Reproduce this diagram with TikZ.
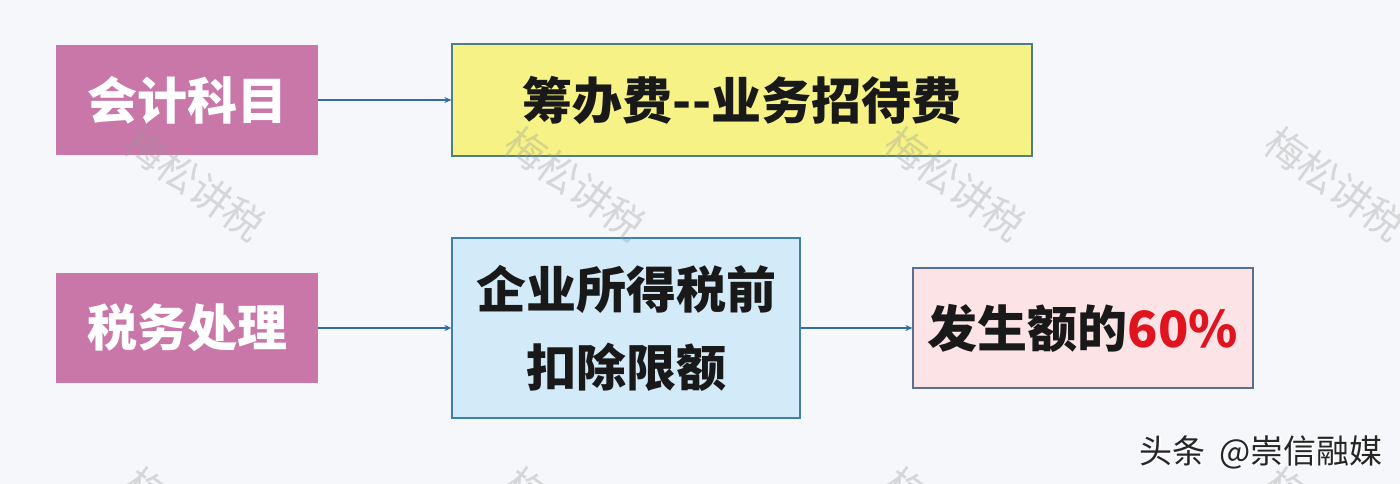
\documentclass[tikz,border=0pt]{standalone}
\usepackage{fontspec}
\newfontfamily\cjk{Noto Sans CJK SC}
\usetikzlibrary{arrows.meta}
\definecolor{bgc}{HTML}{F5F7FA}
\definecolor{pinkbox}{HTML}{C976A9}
\definecolor{yelfill}{HTML}{F6F285}
\definecolor{yelline}{HTML}{4F7F86}
\definecolor{bluefill}{HTML}{D3EAF8}
\definecolor{blueline}{HTML}{3D80AE}
\definecolor{rosefill}{HTML}{FCE3E6}
\definecolor{roseline}{HTML}{5A6F92}
\definecolor{arrowc}{HTML}{2F6DA6}
\definecolor{pctred}{HTML}{E0141E}
\definecolor{wmark}{HTML}{9A9A9A}
\tikzset{
  pinkbox/.style={fill=pinkbox, draw=none, text=white, font=\cjk\bfseries\fontsize{50}{54}\selectfont,
    minimum width=262pt, minimum height=110pt, inner sep=0pt},
  yelbox/.style={fill=yelfill, draw=yelline, line width=1.2pt, text=black!90, font=\cjk\bfseries\fontsize{50}{54}\selectfont,
    minimum width=580pt, minimum height=112pt, inner sep=0pt},
  bluebox/.style={fill=bluefill, draw=blueline, line width=1.2pt, text=black!90, font=\cjk\bfseries\fontsize{50}{78}\selectfont,
    minimum width=348pt, minimum height=180pt, inner sep=0pt, align=center},
  rosebox/.style={fill=rosefill, draw=roseline, line width=1.2pt, text=black!90, font=\cjk\bfseries\fontsize{50}{54}\selectfont,
    minimum width=340pt, minimum height=120pt, inner sep=0pt},
  conn/.style={draw=arrowc, line width=1.2pt, -{Stealth[length=7pt,width=6pt]}},
  wm/.style={text=wmark, opacity=0.35, font=\cjk\fontsize{40}{44}\selectfont, rotate=-36},
  credit/.style={text=black!85, font=\cjk\fontsize{33}{36}\selectfont, anchor=east}
}
\begin{document}
\begin{tikzpicture}[x=1pt,y=1pt]
\useasboundingbox (0,0) rectangle (1400,484);
\clip (0,0) rectangle (1400,484);
\fill[bgc] (0,0) rectangle (1400,484);
% boxes
\node[pinkbox] (acct) at (187,384) {会计科目};
\node[yelbox] (chou) at (742,384) {筹办费--业务招待费};
\node[pinkbox] (tax) at (187,156) {税务处理};
\node[bluebox] (limit) at (626,156) {企业所得税前\\扣除限额};
\node[rosebox] (rate) at (1083,156) {发生额的\textcolor{pctred}{60\%}};
% connectors
\draw[conn] (acct.east) -- (chou.west);
\draw[conn] (tax.east) -- (limit.west);
\draw[conn] (limit.east) -- (rate.west);
% watermarks
\foreach \wx in {195,575,955,1335} {
  \node[wm] at (\wx,300) {梅松讲税};
  \node[wm] at (\wx,-40) {梅松讲税};
}
% credit
\node[credit, text=white] (creditw) at (1388,31) {头条\hspace{14pt}@崇信融媒};
\node[credit] (credit) at (1386,32) {头条\hspace{14pt}@崇信融媒};
\end{tikzpicture}
\end{document}
